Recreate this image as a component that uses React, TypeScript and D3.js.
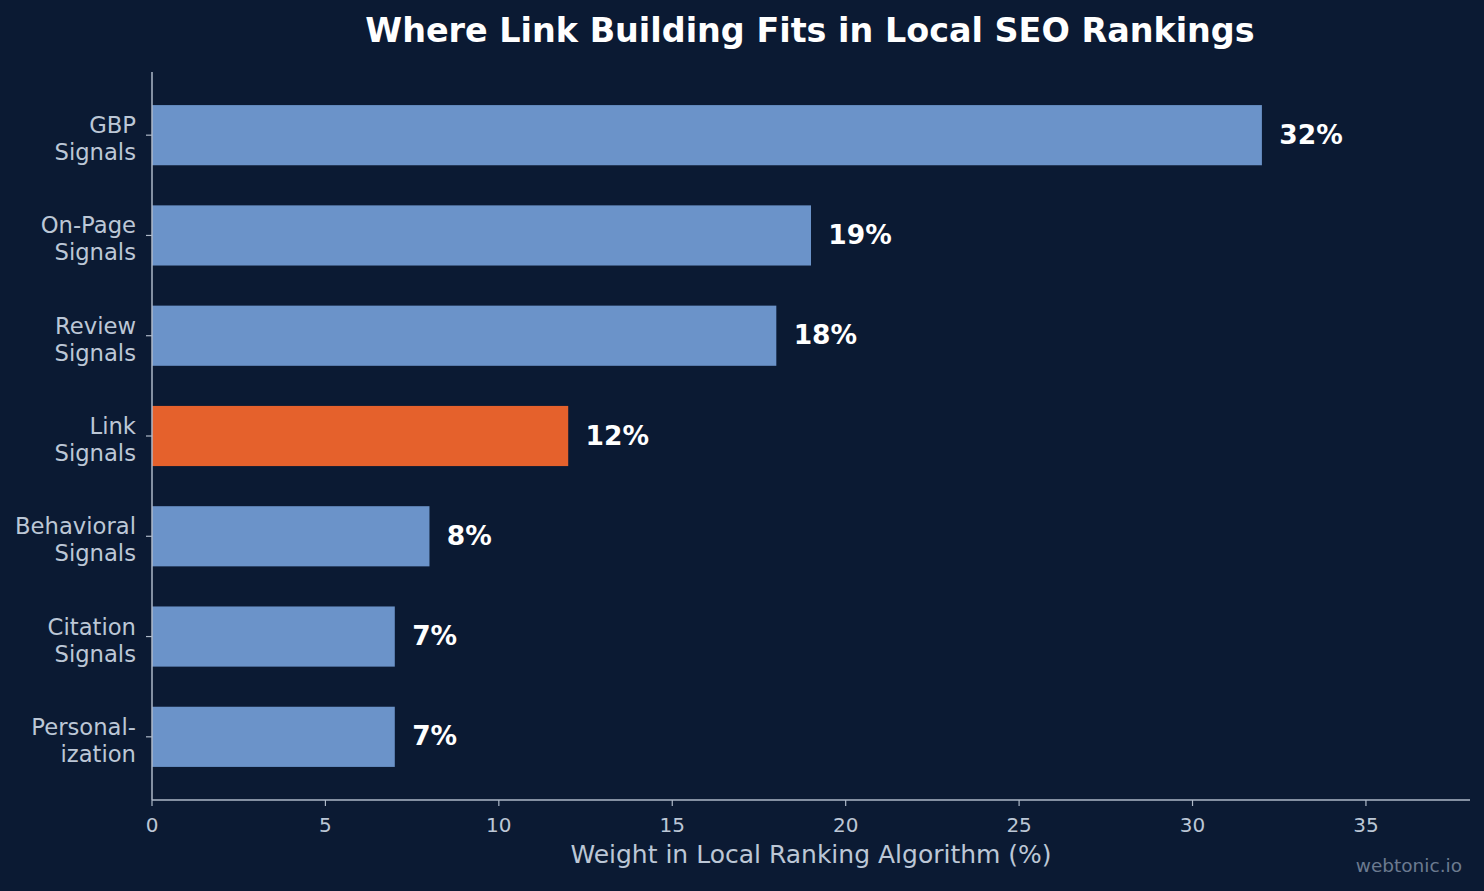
import React from "react";
import * as d3 from "d3";

const categories = [
  ["GBP", "Signals"],
  ["On-Page", "Signals"],
  ["Review", "Signals"],
  ["Link", "Signals"],
  ["Behavioral", "Signals"],
  ["Citation", "Signals"],
  ["Personal-", "ization"],
];
const values = [32, 19, 18, 12, 8, 7, 7];
const highlight = [false, false, false, true, false, false, false];
const xTicks = [0, 5, 10, 15, 20, 25, 30, 35];

const W = 1484, H = 891;
const BG = "#0b1a33";
const AXIS = "#aeb9c8";
const TXT = "#bcc7d6";
const BLUE = "#6b93c9";
const ORANGE = "#e5612c";
const FONT = "DejaVu Sans, sans-serif";

export default function App() {
  const left = 152, right = 1470, top = 72, bottom = 800;
  const x = d3.scaleLinear().domain([0, 38]).range([left, right]);
  const n = values.length;
  const span = (n - 1) + 0.6;
  const pad = span * 0.05;
  const y = d3.scaleLinear().domain([-0.3 - pad, n - 1 + 0.3 + pad]).range([top, bottom]);
  const bh = y(0.6) - y(0);
  return (
    <svg width={W} height={H} style={{ display: "block", position: "absolute", left: 0, top: 0 }}>
      <rect x={0} y={0} width={W} height={H} fill={BG} />
      <text x={810} y={42} textAnchor="middle" fill="#ffffff" fontFamily={FONT} fontWeight="bold" fontSize={33.4}>
        Where Link Building Fits in Local SEO Rankings
      </text>
      {values.map((v, i) => (
        <g key={i}>
          <rect x={x(0)} y={y(i) - bh / 2} width={x(v) - x(0)} height={bh} fill={highlight[i] ? ORANGE : BLUE} />
          <text x={x(v + 0.5)} y={y(i) + 8.5} fill="#ffffff" fontFamily={FONT} fontWeight="bold" fontSize={26.5}>
            {v}%
          </text>
          <line x1={left - 6} x2={left} y1={y(i)} y2={y(i)} stroke={AXIS} strokeWidth={1.2} />
          <text x={left - 16} y={y(i) - 2} textAnchor="end" fill={TXT} fontFamily={FONT} fontSize={22.7}>
            {categories[i][0]}
          </text>
          <text x={left - 16} y={y(i) + 25} textAnchor="end" fill={TXT} fontFamily={FONT} fontSize={22.7}>
            {categories[i][1]}
          </text>
        </g>
      ))}
      <line x1={left} x2={left} y1={top} y2={bottom} stroke={AXIS} strokeWidth={1.5} />
      <line x1={left} x2={right} y1={bottom} y2={bottom} stroke={AXIS} strokeWidth={1.5} />
      {xTicks.map((t) => (
        <g key={t}>
          <line x1={x(t)} x2={x(t)} y1={bottom} y2={bottom + 6} stroke={AXIS} strokeWidth={1.2} />
          <text x={x(t)} y={832} textAnchor="middle" fill={TXT} fontFamily={FONT} fontSize={20}>
            {t}
          </text>
        </g>
      ))}
      <text x={(left + right) / 2} y={863} textAnchor="middle" fill={TXT} fontFamily={FONT} fontSize={25}>
        Weight in Local Ranking Algorithm (%)
      </text>
      <text x={1462} y={872} textAnchor="end" fill="#6b7a90" fontFamily={FONT} fontSize={18.5}>
        webtonic.io
      </text>
    </svg>
  );
}
